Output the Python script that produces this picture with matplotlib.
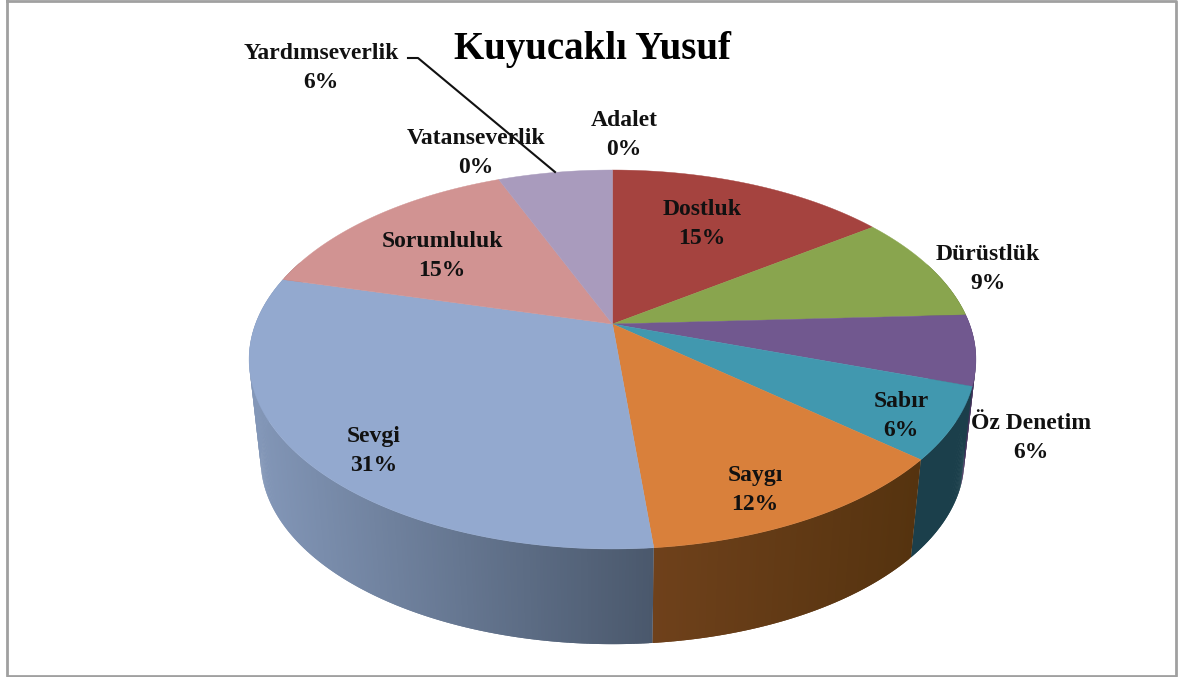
import numpy as np
import matplotlib
matplotlib.use('Agg')
import matplotlib.pyplot as plt

# slices clockwise from 12 o'clock
names = ['Adalet', 'Dostluk', 'Dürüstlük', 'Öz Denetim', 'Sabır', 'Saygı',
         'Sevgi', 'Sorumluluk', 'Vatanseverlik', 'Yardımseverlik']
values = [0.0, 15.0, 9.2, 6.0, 6.1, 12.2, 30.6, 14.8, 0.0, 6.1]
top_colors = ['#a5433f', '#a5433f', '#89a54e', '#71588f', '#4198af', '#d9803b',
              '#93a9cf', '#d19392', '#d19392', '#a99bbd']
wall_left = ['#6f411b', '#6f411b', '#56682f', '#44335c', '#1b3f4b', '#6f411b',
             '#8397b8', '#8a5a58', '#8a5a58', '#655a75']
wall_right = ['#6f411b', '#6f411b', '#56682f', '#44335c', '#1b3f4b', '#55330f',
              '#4a586c', '#8a5a58', '#8a5a58', '#655a75']
label_x = [624, 702, 988, 1031, 901, 755, 374, 442, 476, 321]
label_y = [135, 224, 269, 438, 416, 490, 451, 256, 153, 68]


# unit circle to the picture, a pie seen in perspective
def top_point(theta):
    x = np.sin(theta)
    y = np.cos(theta)
    d = 1 + 0.1873*y
    return 612.5 + 357*x/d, (324 - 122.15*y)/d


def bottom_point(theta):
    x, y = top_point(theta)
    return 612.5 + (x - 612.5)*0.968, y*0.973 + 110


fig = plt.figure(figsize=(11.78, 6.77), dpi=100)
ax = fig.add_axes([0, 0, 1, 1])
ax.set_xlim(0, 1178)
ax.set_ylim(677, 0)
ax.axis('off')

# frame
ax.plot([7, 1176, 1176, 7, 7], [1, 1, 676, 676, 1], color='#a0a0a0', lw=2, zorder=1)

edges = np.cumsum([0] + values)/100.0*2*np.pi

# side wall first, in thin strips for the shading
for i in range(len(values)):
    if values[i] == 0:
        continue
    t = np.linspace(edges[i], edges[i+1], max(int(values[i]*8), 3))
    xs, ys = top_point(t)
    xb, yb = bottom_point(t)
    c0 = np.array(matplotlib.colors.to_rgb(wall_left[i]))
    c1 = np.array(matplotlib.colors.to_rgb(wall_right[i]))
    lo, hi = min(xs.min(), xb.min()), max(xs.max(), xb.max())
    for j in range(len(t) - 1):
        if np.cos(t[j]) > 0.35:
            continue
        # each strip runs over the next one so no seams show
        k = min(j + 2, len(t) - 1)
        f = (0.5*(xs[j] + xs[j+1]) - lo)/(hi - lo)
        col = c0 + (c1 - c0)*f
        ax.fill(np.r_[xs[j:k+1], xb[j:k+1][::-1]], np.r_[ys[j:k+1], yb[j:k+1][::-1]],
                color=col, lw=0, zorder=2)

# top face
for i in range(len(values)):
    if values[i] == 0:
        continue
    t = np.linspace(edges[i], edges[i+1], 120)
    xs, ys = top_point(t)
    ax.fill(np.r_[612.5, xs], np.r_[324, ys], color=top_colors[i], lw=0.3, zorder=3)

# leader for Yardımseverlik
ax.plot([408, 418, 555], [58, 58, 172], color='#111111', lw=1.5, zorder=4)

for i in range(len(names)):
    ax.text(label_x[i], label_y[i], '%s\n%.0f%%' % (names[i], values[i]), ha='center', va='center',
            family='Liberation Serif', weight='bold', fontsize=17, color='#111111',
            linespacing=1.55, zorder=5)

ax.text(593, 50, 'Kuyucaklı Yusuf', ha='center', va='center', family='Liberation Serif',
        weight='bold', fontsize=28, color='black', zorder=5)

fig.savefig('out.png', dpi=100)
